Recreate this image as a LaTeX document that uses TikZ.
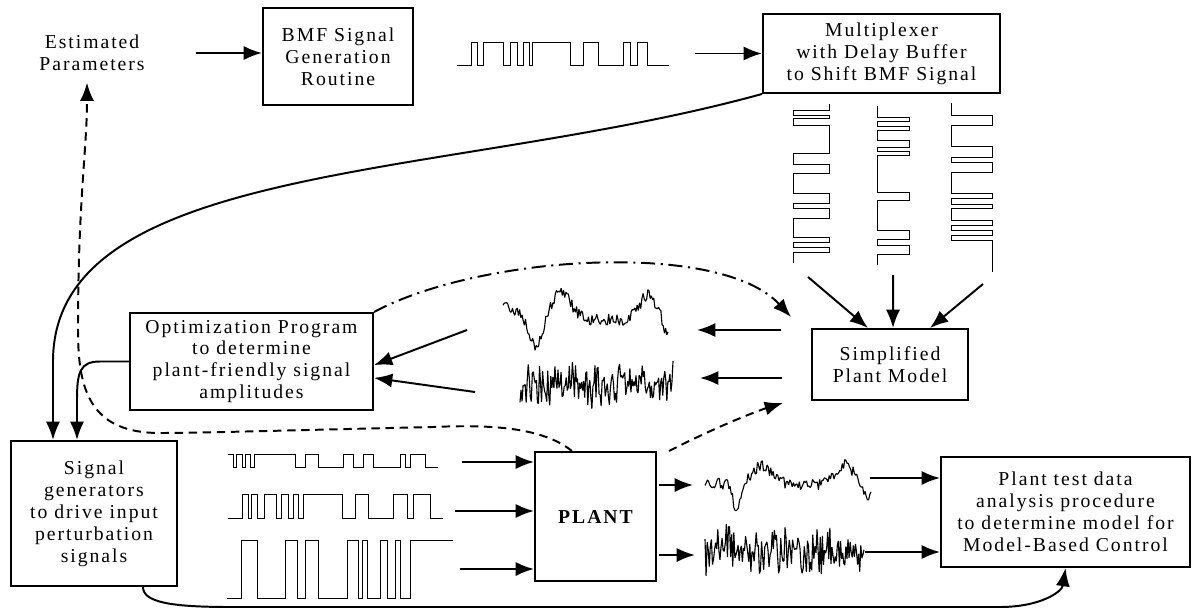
\documentclass[tikz,border=0pt]{standalone}
\usepackage{fontspec}
\setmainfont{Liberation Serif}[LetterSpace=10]
\usetikzlibrary{arrows.meta,positioning,calc}

\newcommand{\boxfont}{\fontsize{14}{15.6}\selectfont}

\begin{document}
\begin{tikzpicture}[x=0.025cm,y=-0.025cm,
    box/.style={draw,line width=1.4pt,inner sep=1pt,align=center,font=\boxfont},
    arr/.style={-{Latex[length=13pt,width=10pt]},line width=1.4pt},
    dsh/.style={dash pattern=on 6pt off 4pt},
    dshdot/.style={dash pattern=on 10pt off 4pt on 1.5pt off 4pt},
    wave/.style={semithick},
    noisy/.style={thick,line join=bevel},
    declare function={bump(\u)=exp(-min((\u)*(\u),9));}]
  \useasboundingbox (0,0) rectangle (1200,610);

  % blocks
  \node[align=center,font=\boxfont] (est) at (92,53) {Estimated\\Parameters};
  \node[box,minimum width=3.75cm,minimum height=2.425cm] (bmf) at (338,56.5)
    {BMF Signal\\Generation\\Routine};
  \node[box,minimum width=5.925cm,minimum height=1.975cm] (mux) at (881.5,53.5)
    {Multiplexer\\with Delay Buffer\\to Shift BMF Signal};
  \node[box,minimum width=6.075cm,minimum height=2.425cm] (opt) at (251.5,361.5)
    {Optimization Program\\to determine\\plant-friendly signal\\amplitudes};
  \node[box,minimum width=3.9cm,minimum height=1.775cm] (spm) at (890,364.5)
    {Simplified\\Plant Model};
  \node[box,minimum width=4.15cm,minimum height=3.625cm] (sig) at (94,513.5)
    {Signal\\generators\\to drive input\\perturbation\\signals};
  \node[box,minimum width=3.025cm,minimum height=3.225cm,font=\boxfont\bfseries] (plant) at (595.5,516.5)
    {PLANT};
  \node[box,minimum width=6.225cm,minimum height=2.75cm] (ana) at (1065.5,512)
    {Plant test data\\analysis procedure\\to determine model for\\Model-Based Control};

  % BMF signal and its shifted copies
  \draw[wave] (457,65) -| (471,42) -| (477,65) -| (483,42) -| (503,65) -| (510,42) -| (517,65)
    -| (523,42) -| (529,65) -| (532,42) -| (570,65) -| (583,42) -| (598,65) -| (623,42)
    -| (630,65) -| (637,42) -| (647,65) -- (669,65);
  \draw[wave] (829,104) |- (793,110) |- (829,115) |- (793,118) |- (829,125) |- (793,153)
    |- (829,164) |- (793,173) |- (829,193) |- (793,203) |- (829,208) |- (793,218)
    |- (829,237) |- (793,242) |- (829,247) |- (793,252) -- (793,263);
  \draw[wave] (877,106) |- (909,117) |- (877,121) |- (909,126) |- (877,130) |- (909,140)
    |- (877,147) |- (909,151) |- (877,155) |- (909,192) |- (877,200) |- (909,230)
    |- (877,239) |- (909,245) |- (877,254) -- (877,265);
  \draw[wave] (951,103) |- (992,115) |- (951,125) |- (992,146) |- (951,157) |- (992,162)
    |- (951,172) |- (992,193) |- (951,198) |- (992,204) |- (951,208) |- (992,220)
    |- (951,225) |- (992,230) |- (951,235) |- (992,240) -- (992,272);

  % perturbation signals
  \draw[wave] (228,454) -| (233,467) -| (236,454) -| (242,467) -| (245,454) -| (250,467)
    -| (254,454) -| (295,467) -| (305,454) -| (318,467) -| (343,454) -| (353,467)
    -| (363,454) -| (373,467) -| (400,454) -| (405,467) -| (410,454) -| (425,467) -- (438,467);
  \draw[wave] (228,518) -| (242,494) -| (248,518) -| (251,494) -| (257,518) -| (264,494)
    -| (276,518) -| (281,494) -| (288,518) -| (293,494) -| (298,518) -| (303,494)
    -| (342,518) -| (355,494) -| (368,518) -| (393,494) -| (407,518) -| (413,494)
    -| (430,518) -- (443,518);
  \draw[wave] (227,598) -| (241,540) -| (257,598) -| (285,540) -| (297,598) -| (305,540)
    -| (318,598) -| (347,540) -| (358,598) -| (362,540) -| (367,598) -| (380,540)
    -| (387,598) -| (395,540) -| (400,598) -| (410,540) -- (453,540);

  % responses
  \pgfmathsetseed{11}
  \draw[noisy] plot[domain=503:668,samples=140] (\x,{320-15*bump((\x-503)/18)+28*bump((\x-536)/9)
    -27*bump((\x-561)/14)-25*bump((\x-648)/12)+16*bump((\x-668)/6)+6*rand});
  \draw[noisy] plot[domain=520:673,samples=150] (\x,{386+16*rand+12*rand});
  \draw[noisy] plot[domain=705:871,samples=140] (\x,{484+24*bump((\x-737)/6)-18*bump((\x-762)/14)
    -20*bump((\x-845)/12)+15*bump((\x-868)/6)+6*rand});
  \draw[noisy] plot[domain=705:864,samples=150] (\x,{550+16*rand+12*rand});

  % top row
  \draw[arr,shorten <=1.15cm] (est.east) -- (est.east -| bmf.west);
  \coordinate (bw) at (695,53.5);
  \draw[arr] (bw) -- (mux.west);

  \coordinate (v1) at (808,277);
  \coordinate (v2) at (893,275);
  \coordinate (v3) at (983,284);
  \draw[arr] (v1) -- ([xshift=-0.55cm]spm.north);
  \draw[arr] (v2) -- ([xshift=0.075cm]spm.north);
  \draw[arr] (v3) -- ([xshift=1cm]spm.north);

  % model loop
  \coordinate (m1) at (697,330);
  \coordinate (m2) at (700,378);
  \draw[arr] ($(spm.west |- m1)+(-30,0)$) -- (m1);
  \draw[arr] ($(spm.west |- m2)+(-29,0)$) -- (m2);
  \coordinate (m1l) at (467,330);
  \coordinate (m2l) at (475,392);
  \draw[arr] (m1l) -- ([yshift=-0.09cm]opt.east);
  \draw[arr] (m2l) -- ([yshift=-0.41cm]opt.east);
  \draw[arr,dshdot] (opt.north east) .. controls (480,255) and (720,240)
    .. ([shift={(-20,-11)}]spm.north west);

  % feedback
  \draw[arr,dsh] ([xshift=-0.59cm]plant.north) .. controls (540,425) and (480,425) .. (433,427)
    .. controls (300,430) and (200,433) .. (160,433) .. controls (90,433) and (78,390) .. (78,330)
    .. controls (78,200) and (87,150) .. ([xshift=-0.125cm,yshift=-0.17cm]est.south);
  \draw[arr,dsh] ([xshift=0.3cm]plant.north east) .. controls (720,425) and (760,410)
    .. ([shift={(-28,2)}]spm.south west);

  \draw[arr] (mux.south west) .. controls (450,180) and (55,160) .. (53,360)
    -- ([xshift=-1.025cm]sig.north);
  \draw[arr] (opt.west) -- (100,361.5) .. controls (80,361.5) and (77,372) .. (77,400)
    -- ([xshift=-0.425cm]sig.north);
  \draw[arr] ([xshift=1.225cm]sig.south) .. controls (143,602) and (170,607) .. (230,607)
    -- (1000,607) .. controls (1040,607) and (1062,592) .. (ana.south);

  % plant in/out
  \coordinate (i1) at (462,462);
  \coordinate (i2) at (455,511);
  \coordinate (i3) at (460,569);
  \foreach \i in {i1,i2,i3}
    \draw[arr] (\i) -- (\i -| plant.west);
  \coordinate (o1) at (693,485);
  \coordinate (o2) at (695,555);
  \foreach \o in {o1,o2}
    \draw[arr] ($(\o -| plant.east)+(2,0)$) -- (\o);
  \coordinate (a1) at (870,478);
  \coordinate (a2) at (865,552);
  \foreach \a in {a1,a2}
    \draw[arr] (\a) -- (\a -| ana.west);
\end{tikzpicture}
\end{document}
